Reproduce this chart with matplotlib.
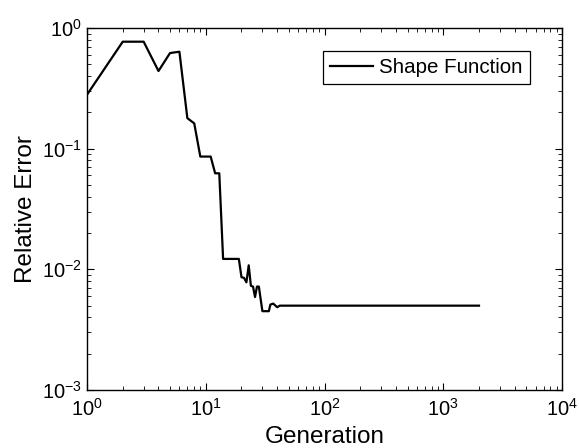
import matplotlib
matplotlib.use("Agg")
import matplotlib.pyplot as plt
from matplotlib.ticker import LogLocator, NullFormatter

plt.rcParams['font.family'] = ['Liberation Sans', 'DejaVu Sans']
plt.rcParams['mathtext.fontset'] = 'custom'
plt.rcParams['mathtext.rm'] = 'Liberation Sans'
plt.rcParams['mathtext.it'] = 'Liberation Sans'

generation = [1, 2, 3, 4, 5, 6, 7, 8, 9, 11, 12, 13, 14, 19, 20, 21, 22, 23,
              24, 25, 26, 27, 28, 30, 34, 35, 37, 40, 42, 2000]
rel_error = [0.28, 0.77, 0.77, 0.44, 0.62, 0.636, 0.179, 0.162, 0.086, 0.086,
             0.0625, 0.0625, 0.0122, 0.0122, 0.0086, 0.0085, 0.0078, 0.0108,
             0.0073, 0.0072, 0.0059, 0.0072, 0.0072, 0.0045, 0.0045, 0.0051,
             0.0052, 0.00485, 0.005, 0.005]
series_label = "Shape Function"

fig = plt.figure(figsize=(5.79, 4.48), dpi=100)
ax = fig.add_axes([87/579, 1-390/448, 475/579, 362/448])
ax.plot(generation, rel_error, color='black', lw=1.6, label=series_label)
ax.set_xscale('log')
ax.set_yscale('log')
ax.set_xlim(1, 1e4)
ax.set_ylim(1e-3, 1)
ax.xaxis.set_major_locator(LogLocator(base=10, numticks=10))
ax.yaxis.set_major_locator(LogLocator(base=10, numticks=10))
ax.xaxis.set_minor_locator(LogLocator(base=10, subs=range(2, 10), numticks=20))
ax.yaxis.set_minor_locator(LogLocator(base=10, subs=range(2, 10), numticks=20))
ax.xaxis.set_minor_formatter(NullFormatter())
ax.yaxis.set_minor_formatter(NullFormatter())
ax.tick_params(which='both', direction='in', top=True, right=True, labelsize=14.5)
ax.tick_params(which='major', length=5, width=0.8)
ax.tick_params(which='minor', length=3, width=0.6)
ax.tick_params(axis='x', pad=6)
for s in ax.spines.values():
    s.set_linewidth(1.0)
ax.set_xlabel("Generation", fontsize=17.5, labelpad=4)
ax.set_ylabel("Relative Error", fontsize=17.5, labelpad=3.5)
leg = ax.legend(loc='upper right', bbox_to_anchor=(0.9326, 0.9365), fontsize=14.8,
                fancybox=False, framealpha=1, edgecolor='black', handlelength=2.1,
                borderaxespad=0, borderpad=0.35, handletextpad=0.3)
leg.get_frame().set_linewidth(0.9)
fig.savefig("out.png", dpi=100)
